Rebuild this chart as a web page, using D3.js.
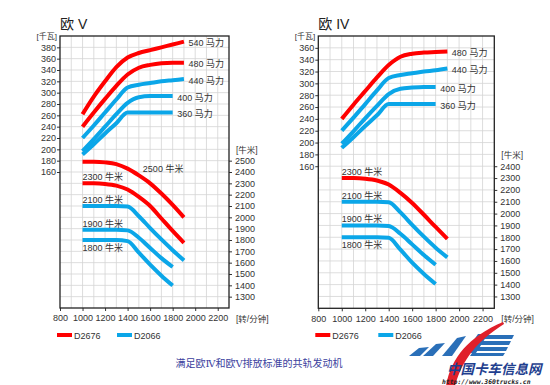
<!DOCTYPE html>
<html>
<head>
<meta charset="utf-8">
<script src="https://cdn.jsdelivr.net/npm/d3@7/dist/d3.min.js"></script>
<style>
  body { margin: 0; background: #fff; }
  text { font-family: "Liberation Sans", Arial, "Noto Sans CJK SC", sans-serif; }
</style>
</head>
<body>
<script>
'use strict';

// engine speeds (rpm)
const rpmLong = [1000, 1100, 1200, 1300, 1400, 1500, 1600, 1700, 1800, 1900];
const rpmShort = [1000, 1100, 1200, 1300, 1400, 1500, 1600, 1700, 1800];

const engines = ['D2676', 'D2066'];
const engineColors = ['#ff0000', '#0ba6e8'];

// tick labels
const rpmTicks = [800, 1000, 1200, 1400, 1600, 1800, 2000, 2200];
const powerTicksV = [160, 180, 200, 220, 240, 260, 280, 300, 320, 340, 360, 380];
const torqueTicksV = [1300, 1400, 1500, 1600, 1700, 1800, 1900, 2000, 2100, 2200, 2300, 2400, 2500];
const powerTicksIV = [160, 180, 200, 220, 240, 260, 280, 300, 320, 340, 360];
const torqueTicksIV = [1300, 1400, 1500, 1600, 1700, 1800, 1900, 2000, 2100, 2200, 2300, 2400];

// Euro V - power (kW)
const powerLabelsV = ['540 马力', '480 马力', '440 马力', '400 马力', '360 马力'];
const powerEngineV = ['D2676', 'D2676', 'D2066', 'D2066', 'D2066'];
const powerValuesV = [
  [262, 293, 320, 345, 362, 370, 375, 380, 385, 390],
  [240, 265, 289, 312, 332, 344, 349, 352, 353, 353],
  [220, 242, 265, 288, 309, 314, 317, 320, 322, 324],
  [197, 218, 240, 262, 282, 292, 294, 294, 294],
  [191, 209, 228, 246, 265, 265, 265, 265, 265]
];

// Euro V - torque (Nm)
const torqueLabelsV = ['2500 牛米', '2300 牛米', '2100 牛米', '1900 牛米', '1800 牛米'];
const torqueEngineV = ['D2676', 'D2676', 'D2066', 'D2066', 'D2066'];
const torqueValuesV = [
  [2490, 2490, 2485, 2470, 2430, 2370, 2300, 2210, 2110, 2000],
  [2300, 2300, 2295, 2280, 2245, 2180, 2100, 1990, 1880, 1775],
  [2100, 2100, 2100, 2100, 2095, 2010, 1905, 1805, 1710, 1620],
  [1890, 1890, 1890, 1890, 1885, 1820, 1730, 1640, 1562],
  [1800, 1800, 1800, 1800, 1790, 1688, 1582, 1485, 1398]
];
const torqueLabelPosV = ['side', 'above', 'above', 'above', 'below'];

// Euro IV - power (kW)
const powerLabelsIV = ['480 马力', '440 马力', '400 马力', '360 马力'];
const powerEngineIV = ['D2676', 'D2066', 'D2066', 'D2066'];
const powerValuesIV = [
  [240, 264, 287, 310, 331, 345, 350, 352, 353, 354],
  [220, 242, 265, 288, 309, 314, 317, 320, 322, 325],
  [198, 219, 241, 262, 282, 291, 293, 294, 294],
  [191, 209, 228, 246, 265, 265, 265, 265, 265]
];

// Euro IV - torque (Nm)
const torqueLabelsIV = ['2300 牛米', '2100 牛米', '1900 牛米', '1800 牛米'];
const torqueEngineIV = ['D2676', 'D2066', 'D2066', 'D2066'];
const torqueValuesIV = [
  [2300, 2300, 2295, 2280, 2245, 2175, 2090, 1990, 1887, 1786],
  [2100, 2100, 2100, 2100, 2095, 2010, 1905, 1805, 1712, 1630],
  [1900, 1900, 1900, 1900, 1895, 1830, 1740, 1650, 1568],
  [1800, 1800, 1800, 1800, 1795, 1695, 1585, 1490, 1405]
];
const torqueLabelPosIV = ['above', 'above', 'above', 'below'];

const svg = d3.select('body')
  .append('svg')
  .attr('width', 550)
  .attr('height', 385);

const color = d3.scaleOrdinal().domain(engines).range(engineColors);
const plain = d3.format('d');

function rpmsFor(values) {
  return values.length === rpmLong.length ? rpmLong : rpmShort;
}

// draw one panel (frame, grid, axes, curves, labels, legend)
function drawPanel(p) {
  let g = svg.append('g');
  let xScale = d3.scaleLinear().domain([800, 2300]).range([p.left, p.right]);
  let yPower = d3.scaleLinear().domain(p.powerDomain).range([p.bottom, p.top]);
  let yTorque = d3.scaleLinear().domain(p.torqueDomain).range([p.bottom, p.top]);

  // grid
  g.selectAll('.vgrid')
    .data(d3.range(900, 2300, 100))
    .enter().append('line')
    .attr('x1', d => xScale(d)).attr('x2', d => xScale(d))
    .attr('y1', p.top).attr('y2', p.bottom)
    .attr('stroke', '#d4d4d4').attr('stroke-width', 0.8);
  g.selectAll('.hgrid')
    .data(d3.range(p.torqueDomain[0] + 100, p.torqueDomain[1], 100))
    .enter().append('line')
    .attr('x1', p.left).attr('x2', p.right)
    .attr('y1', d => yTorque(d)).attr('y2', d => yTorque(d))
    .attr('stroke', '#d4d4d4').attr('stroke-width', 0.8);

  // axes
  let leftAxis = g.append('g')
    .attr('transform', 'translate(' + p.left + ',0)')
    .call(d3.axisLeft(yPower).tickValues(p.powerTicks).tickFormat(plain).tickSize(3).tickPadding(1));
  let rightAxis = g.append('g')
    .attr('transform', 'translate(' + p.right + ',0)')
    .call(d3.axisRight(yTorque).tickValues(p.torqueTicks).tickFormat(plain).tickSize(3).tickPadding(3));
  let bottomAxis = g.append('g')
    .attr('transform', 'translate(0,' + p.bottom + ')')
    .call(d3.axisBottom(xScale).tickValues(rpmTicks).tickFormat(plain).tickSize(3).tickPadding(4));
  [leftAxis, rightAxis, bottomAxis].forEach(a => {
    a.select('.domain').remove();
    a.selectAll('text').style('font-size', '9px').attr('fill', '#333')
      .style('font-family', '"Liberation Sans", Arial, sans-serif');
    a.selectAll('line').attr('stroke', '#333');
  });

  // frame
  g.append('rect')
    .attr('x', p.left).attr('y', p.top)
    .attr('width', p.right - p.left).attr('height', p.bottom - p.top)
    .attr('fill', 'none').attr('stroke', '#222').attr('stroke-width', 1.3);

  let powerLine = d3.line()
    .x(d => xScale(d[0])).y(d => yPower(d[1]))
    .curve(d3.curveMonotoneX);
  let torqueLine = d3.line()
    .x(d => xScale(d[0])).y(d => yTorque(d[1]))
    .curve(d3.curveMonotoneX);

  let pairs = vals => rpmsFor(vals).map((r, i) => [r, vals[i]]);

  // power curves
  p.powerValues.forEach((vals, i) => {
    let pts = pairs(vals);
    g.append('path')
      .datum(pts)
      .attr('d', powerLine)
      .attr('fill', 'none')
      .attr('stroke', color(p.powerEngine[i]))
      .attr('stroke-width', 4);
    let last = pts[pts.length - 1];
    g.append('text')
      .attr('x', xScale(last[0]) + 4.5)
      .attr('y', yPower(last[1]) + 1.5)
      .attr('dy', '0.35em')
      .style('font-size', '9px').attr('fill', '#333')
      .text(p.powerLabels[i]);
  });

  // torque curves
  p.torqueValues.forEach((vals, i) => {
    let pts = pairs(vals);
    g.append('path')
      .datum(pts)
      .attr('d', torqueLine)
      .attr('fill', 'none')
      .attr('stroke', color(p.torqueEngine[i]))
      .attr('stroke-width', 4);
    let pos = p.torqueLabelPos[i];
    let lx = xScale(pts[0][0]);
    let ly = yTorque(pts[0][1]) - 3;
    if (pos === 'below') ly = yTorque(pts[0][1]) + 11;
    if (pos === 'side') { lx = xScale(pts[5][0]) + 4; ly = yTorque(pts[0][1]) + 10.5; }
    g.append('text')
      .attr('x', lx).attr('y', ly)
      .style('font-size', '9px').attr('fill', '#333')
      .text(p.torqueLabels[i]);
  });

  // titles and units
  g.append('text')
    .attr('x', p.left).attr('y', 29)
    .style('font-size', '14px').attr('fill', '#222')
    .text(p.title);
  g.append('text')
    .attr('x', p.left - 3).attr('y', p.top + 3)
    .attr('text-anchor', 'end')
    .style('font-size', '8px').attr('fill', '#333')
    .text('[千瓦]');
  g.append('text')
    .attr('x', p.right + 7).attr('y', yTorque(p.torqueTicks[p.torqueTicks.length - 1]) - 8)
    .style('font-size', '8.5px').attr('fill', '#333')
    .text('[牛米]');
  g.append('text')
    .attr('x', p.right + 7).attr('y', p.bottom + 13.5)
    .style('font-size', '8.5px').attr('fill', '#333')
    .text('[转/分钟]');

  // legend
  engines.forEach((e, i) => {
    let lx = p.left - 3 + i * p.legendGap;
    g.append('rect')
      .attr('x', lx).attr('y', 333)
      .attr('width', 15).attr('height', 4)
      .attr('fill', color(e));
    g.append('text')
      .attr('x', lx + 17).attr('y', 339)
      .style('font-size', '9px').attr('fill', '#333')
      .text(e);
  });
}

drawPanel({
  title: '欧 V',
  left: 60, right: 229, top: 36, bottom: 308,
  powerDomain: [-80, 400], torqueDomain: [1200, 3600],
  powerTicks: powerTicksV, torqueTicks: torqueTicksV,
  powerLabels: powerLabelsV, powerEngine: powerEngineV, powerValues: powerValuesV,
  torqueLabels: torqueLabelsV, torqueEngine: torqueEngineV, torqueValues: torqueValuesV,
  torqueLabelPos: torqueLabelPosV,
  legendGap: 60
});

drawPanel({
  title: '欧 IV',
  left: 318.3, right: 494.3, top: 36, bottom: 308.3,
  powerDomain: [-80, 380], torqueDomain: [1200, 3500],
  powerTicks: powerTicksIV, torqueTicks: torqueTicksIV,
  powerLabels: powerLabelsIV, powerEngine: powerEngineIV, powerValues: powerValuesIV,
  torqueLabels: torqueLabelsIV, torqueEngine: torqueEngineIV, torqueValues: torqueValuesIV,
  torqueLabelPos: torqueLabelPosIV,
  legendGap: 63
});

// caption
svg.append('text')
  .attr('x', 259).attr('y', 367)
  .attr('text-anchor', 'middle')
  .style('font-family', '"Liberation Serif", "DejaVu Serif", "Noto Sans CJK SC", serif')
  .style('font-size', '10px')
  .attr('fill', '#3b3f9e')
  .text('满足欧Ⅳ和欧Ⅴ排放标准的共轨发动机');

// watermark logo
let logo = svg.append('g');
let blueShapes = [
  'M409,356 L419,348 L429,347 L420,356 Z',
  'M423,356 L436,344 L445,343 L433,356 Z',
  'M442,356 L457,338 L466,336 L452,356 Z',
  'M465,353 L478,334 L488,334 L476,353 Z',
  'M481,335 L514,335 L512,339 L479,339 Z',
  'M478,341 L511,341 L509,345 L476,345 Z',
  'M475,347 L508,347 L506,351 L473,351 Z',
  'M472,353 L505,353 L503,356 L470,356 Z'
];
logo.selectAll('.wing')
  .data(blueShapes)
  .enter().append('path')
  .attr('d', d => d)
  .attr('fill', '#2a6fb8');
logo.append('path')
  .attr('d', 'M446,386 C451,358 468,337 503,322 L504,324 C477,341 462,360 455,386 Z')
  .attr('fill', '#e0202a');
logo.append('text')
  .attr('x', 447).attr('y', 373.5)
  .style('font-family', '"Noto Sans CJK SC", sans-serif')
  .style('font-size', '13.5px').style('font-weight', 'bold').style('font-style', 'italic')
  .attr('fill', '#1f3f8f')
  .text('中国卡车信息网');
logo.append('text')
  .attr('x', 442).attr('y', 383.5)
  .style('font-family', '"DejaVu Sans Mono", monospace')
  .style('font-size', '6.4px').style('font-weight', 'bold').style('font-style', 'italic')
  .attr('fill', '#222')
  .text('http://www.360trucks.cn');
</script>
</body>
</html>
